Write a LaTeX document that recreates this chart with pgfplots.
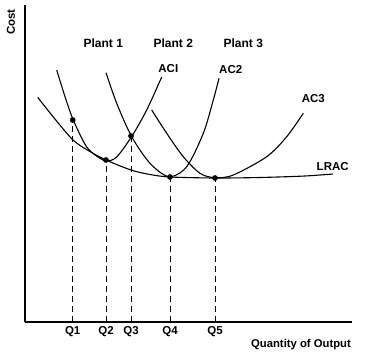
\documentclass[border=0pt]{standalone}
\usepackage{fontspec}
\setmainfont{Liberation Sans}
\usepackage{pgfplots}
\pgfplotsset{compat=1.18}
\begin{document}
\begin{tikzpicture}
\path[use as bounding box] (-25pt,-39pt) rectangle (346pt,322pt);
\begin{axis}[
  at={(0,0)}, anchor=origin,
  scale only axis, width=327pt, height=317pt,
  xmin=0, xmax=327, ymin=0, ymax=317,
  axis lines=left,
  axis line style={-, line width=1.7pt},
  clip=false,
  xtick={47.7,81,106,145,190},
  xticklabels={Q1,Q2,Q3,Q4,Q5},
  ytick=\empty,
  major tick length=0pt,
  tick label style={font=\fontsize{11.5}{13}\selectfont\bfseries},
  xticklabel style={yshift=-0.5pt},
  every axis plot/.append style={black},
]
% LRAC
\addplot[smooth, line width=1.1pt] coordinates {
 (12.7,224.7) (28.3,205) (48,182) (64,171) (81,162) (106,152) (125,147.5) (145,145) (190,144) (235,144.5) (280,146) (308,148)};
% AC1
\addplot[smooth, line width=1.1pt] coordinates {
 (31.7,252) (40,225.3) (48.3,202) (61.7,175) (75,163.7) (82,161) (91.7,165) (106.7,185.5) (121.7,212) (136.7,245)};
% AC2
\addplot[smooth, line width=1.1pt] coordinates {
 (81,249.3) (91.7,218.7) (106.7,185.3) (125,158.7) (144,145.3) (161.7,155.3) (178.3,188.7) (188.3,222) (194,243.7)};
% AC3
\addplot[smooth, line width=1.1pt] coordinates {
 (126.7,212) (141.7,188.7) (158.3,165.3) (175,148.7) (190,144.3) (208.3,147) (241.7,165.3) (261.7,185.3) (278.3,208.7)};
% dashed verticals
\addplot[line width=1pt, dash pattern=on 6pt off 4pt] coordinates {(47.7,0) (47.7,202)};
\addplot[line width=1pt, dash pattern=on 6pt off 4pt] coordinates {(81,0) (81,162)};
\addplot[line width=1pt, dash pattern=on 6pt off 4pt] coordinates {(106,0) (106,186)};
\addplot[line width=1pt, dash pattern=on 6pt off 4pt] coordinates {(145,0) (145,145)};
\addplot[line width=1pt, dash pattern=on 6pt off 4pt] coordinates {(190,0) (190,144)};
% dots
\addplot[only marks, mark=*, mark size=2.6pt] coordinates {(47.7,202) (81,162) (106,186) (145,145) (190,144)};
% labels
\node[font=\fontsize{11.5}{13}\selectfont\bfseries, rotate=90] at (axis cs:-14,300) {Cost};
\node[font=\fontsize{11.3}{13}\selectfont\bfseries] at (axis cs:276,-23) {Quantity of Output};
\node[font=\fontsize{12}{14}\selectfont\bfseries] at (axis cs:78.3,278.7) {Plant 1};
\node[font=\fontsize{12}{14}\selectfont\bfseries] at (axis cs:148.3,278.7) {Plant 2};
\node[font=\fontsize{12}{14}\selectfont\bfseries] at (axis cs:218.3,278.7) {Plant 3};
\node[font=\fontsize{11.5}{13}\selectfont\bfseries] at (axis cs:143.3,253) {ACI};
\node[font=\fontsize{11.5}{13}\selectfont\bfseries] at (axis cs:205.7,252) {AC2};
\node[font=\fontsize{11.5}{13}\selectfont\bfseries] at (axis cs:288.3,223) {AC3};
\node[font=\fontsize{11.5}{13}\selectfont\bfseries] at (axis cs:307.7,155.3) {LRAC};
\end{axis}
\end{tikzpicture}
\end{document}
